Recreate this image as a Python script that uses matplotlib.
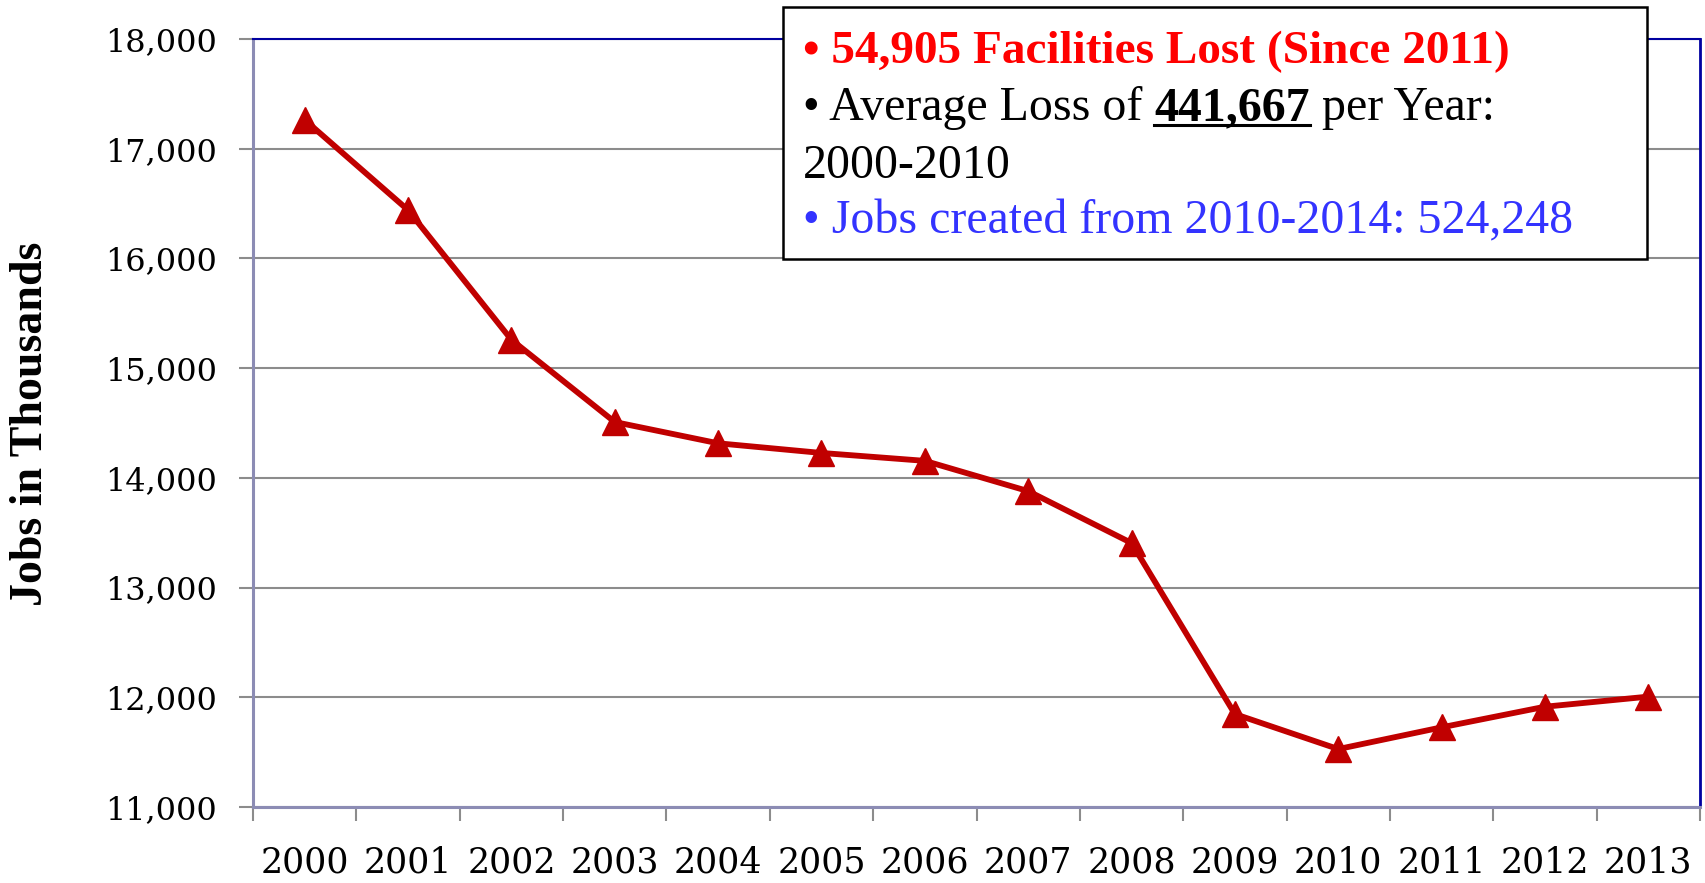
import numpy as np
import matplotlib.pyplot as plt
from matplotlib.patches import Rectangle
from matplotlib.lines import Line2D

years = ['2000', '2001', '2002', '2003', '2004', '2005', '2006',
         '2007', '2008', '2009', '2010', '2011', '2012', '2013']
jobs = [17263, 16441, 15259, 14509, 14315, 14227, 14155,
        13879, 13406, 11847, 11528, 11726, 11914, 12006]
yticks = [11000, 12000, 13000, 14000, 15000, 16000, 17000, 18000]

W, H = 1706, 883
fig = plt.figure(figsize=(W / 100, H / 100), dpi=100)
ax = fig.add_axes([253 / W, 1 - 807 / H, (1700 - 253) / W, (807 - 39) / H])

x = np.arange(len(years))
ax.plot(x, jobs, color='#C00000', lw=4.2, marker='^', ms=19,
        markeredgecolor='#C00000', markerfacecolor='#C00000', zorder=3)

ax.set_xlim(-0.5, len(years) - 0.5)
ax.set_ylim(11000, 18000)
ax.set_yticks(yticks)
ax.set_yticklabels([f'{v:,}' for v in yticks], fontfamily='DejaVu Serif', fontsize=23)
ax.set_xticks(x)
ax.set_xticklabels(years, fontfamily='DejaVu Serif', fontsize=25)
ax.set_xticks(np.arange(-0.5, len(years)), minor=True)
ax.tick_params(axis='x', which='major', length=0, pad=28)
ax.tick_params(axis='x', which='minor', length=10, width=1.5, color='#8C8C8C')
ax.tick_params(axis='y', length=10, width=1.5, color='#8C8C8C', pad=16)
ax.yaxis.grid(True, color='#8C8C8C', lw=1.5)
ax.set_axisbelow(True)

for s in ['left', 'bottom']:
    ax.spines[s].set_color('#8C8CB4')
    ax.spines[s].set_linewidth(2.2)
ax.spines['top'].set_color('#0000A0')
ax.spines['top'].set_linewidth(1.5)
ax.spines['right'].set_color('#0000A0')
ax.spines['right'].set_linewidth(2)

ax.set_ylabel('Jobs in Thousands', fontfamily='Liberation Serif',
              fontweight='bold', fontsize=33)
ax.yaxis.set_label_coords((52 - 253) / (1700 - 253), (807 - 424) / (807 - 39))

# annotation box
fig.add_artist(Rectangle((783 / W, 1 - 259 / H), (1647 - 783) / W, 252 / H,
                         transform=fig.transFigure, facecolor='white',
                         edgecolor='black', lw=1.8, zorder=5))

serif = 'Liberation Serif'
tx = 803 / W
fig.text(tx, 1 - 63 / H, '• 54,905 Facilities Lost (Since 2011)', color='#FF0000',
         fontfamily=serif, fontweight='bold', fontsize=34, zorder=6)

r = fig.canvas.get_renderer()
parts = [('• Average Loss of ', 'normal'), ('441,667', 'bold'), (' per Year:', 'normal')]
cur = tx
for s, wgt in parts:
    t = fig.text(cur, 1 - 120 / H, s, color='black', fontfamily=serif,
                 fontweight=wgt, fontsize=34.5, zorder=6)
    bb = t.get_window_extent(renderer=r)
    if wgt == 'bold':
        fig.add_artist(Line2D([bb.x0 / W, bb.x1 / W], [1 - 125 / H, 1 - 125 / H],
                              transform=fig.transFigure, color='black', lw=2.2, zorder=6))
    cur = bb.x1 / W

fig.text(tx, 1 - 178 / H, '2000-2010', color='black', fontfamily=serif,
         fontsize=34.5, zorder=6)
fig.text(tx, 1 - 233 / H, '• Jobs created from 2010-2014: 524,248', color='#3333FF',
         fontfamily=serif, fontsize=34.5, zorder=6)

fig.savefig('out.png', dpi=100)
